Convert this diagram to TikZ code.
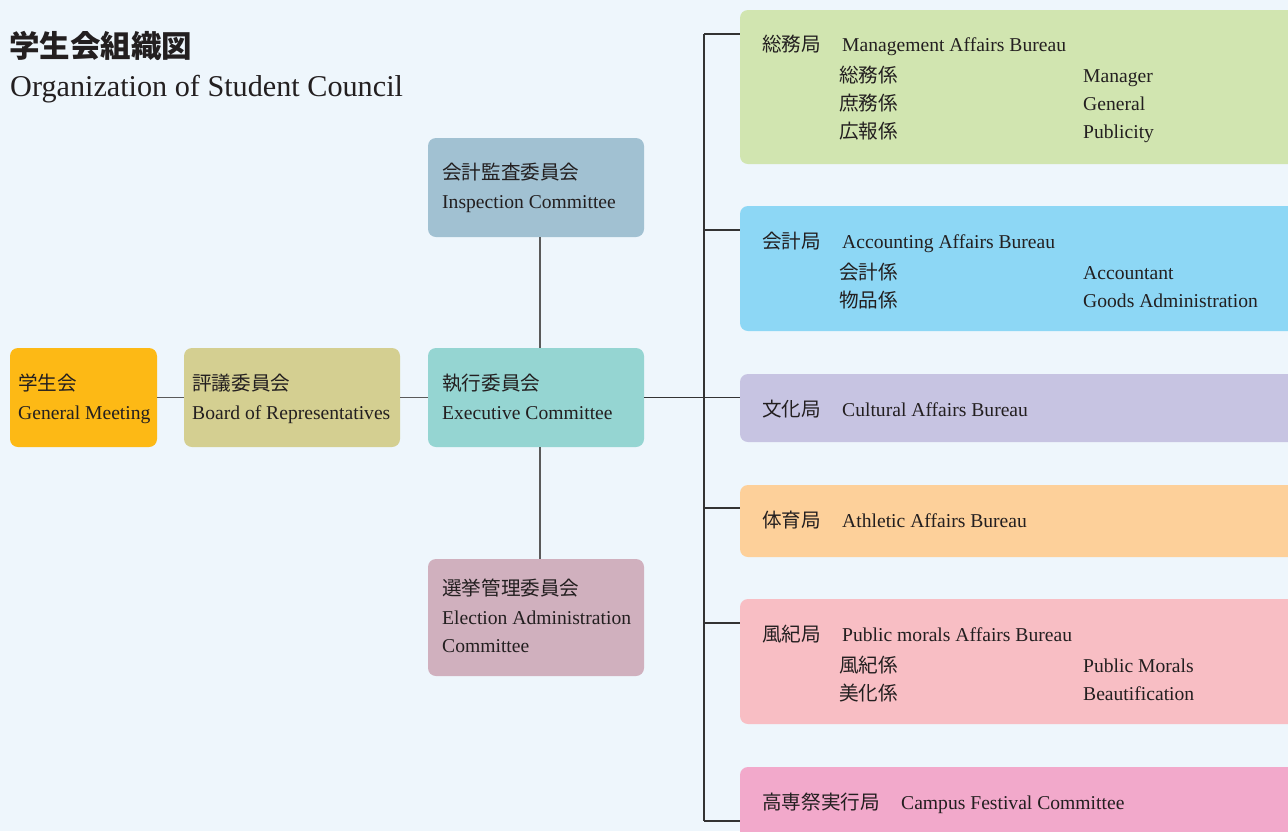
\documentclass[tikz,border=0pt]{standalone}
\usepackage{fontspec}
\setmainfont{Liberation Serif}
\newfontfamily\jp{Noto Sans CJK JP}
\definecolor{bg}{HTML}{EEF6FC}
\definecolor{txt}{HTML}{231F20}
\definecolor{cgm}{HTML}{FDB915}
\definecolor{cbr}{HTML}{D4CF91}
\definecolor{cex}{HTML}{95D5D2}
\definecolor{cin}{HTML}{A1C1D2}
\definecolor{cel}{HTML}{D0B0BE}
\definecolor{cb1}{HTML}{D1E5B0}
\definecolor{cb2}{HTML}{8DD7F5}
\definecolor{cb3}{HTML}{C7C4E2}
\definecolor{cb4}{HTML}{FDD09A}
\definecolor{cb5}{HTML}{F8BEC4}
\definecolor{cb6}{HTML}{F2A9CB}
\definecolor{lnl}{HTML}{5A5A5A}
\definecolor{lnb}{HTML}{333333}
\tikzset{
  box/.style={rectangle, rounded corners=8pt, inner sep=0pt, draw=none},
  en/.style={anchor=base west, inner sep=0pt, text=txt, font=\fontsize{19.6}{22}\selectfont},
  jpt/.style={anchor=base west, inner sep=0pt, text=txt, font=\jp\fontsize{19.6}{22}\selectfont},
  lline/.style={draw=lnl, line width=1.6pt},
  bline/.style={draw=lnb, line width=1.2pt},
}
\begin{document}
\begin{tikzpicture}[x=1pt,y=-1pt]
\useasboundingbox (0,0) rectangle (1288,831);
\clip (0,0) rectangle (1288,831);
\fill[bg] (0,0) rectangle (1288,831);
% title
\node[anchor=base west, inner sep=0pt, text=txt, font=\jp\bfseries\fontsize{30.5}{32}\selectfont] (tj) at (9,57.5) {学生会組織図};
\node[anchor=base west, inner sep=0pt, text=txt, font=\fontsize{30.2}{34}\selectfont] (te) at (10,96) {Organization of Student Council};
% left boxes
\node[box, fill=cgm, minimum width=147pt, minimum height=99pt] (gm) at (83.5,397.5) {};
\node[box, fill=cbr, minimum width=216pt, minimum height=99pt] (br) at (292,397.5) {};
\node[box, fill=cex, minimum width=216pt, minimum height=99pt] (ex) at (536,397.5) {};
\node[box, fill=cin, minimum width=216pt, minimum height=99pt] (in) at (536,187.5) {};
\node[box, fill=cel, minimum width=216pt, minimum height=117pt] (el) at (536,617.5) {};
\node[jpt] (gmj) at (18,390.5) {学生会};
\node[en] (gme) at (18,419) {General Meeting};
\node[jpt] (brj) at (192,390.5) {評議委員会};
\node[en] (bre) at (192,419) {Board of Representatives};
\node[jpt] (exj) at (442,390.5) {執行委員会};
\node[en] (exe) at (442,419) {Executive Committee};
\node[jpt] (inj) at (442,179.5) {会計監査委員会};
\node[en] (ine) at (442,208) {Inspection Committee};
\node[jpt] (elj) at (442,595.5) {選挙管理委員会};
\node[en] (ele) at (442,624) {Election Administration};
\node[en] (ele2) at (442,652) {Committee};
% bureau boxes
\node[box, fill=cb1, minimum width=580pt, minimum height=154pt] (b1) at (1030,87) {};
\node[box, fill=cb2, minimum width=580pt, minimum height=125pt] (b2) at (1030,268.5) {};
\node[box, fill=cb3, minimum width=580pt, minimum height=68pt] (b3) at (1030,408) {};
\node[box, fill=cb4, minimum width=580pt, minimum height=72pt] (b4) at (1030,521) {};
\node[box, fill=cb5, minimum width=580pt, minimum height=125pt] (b5) at (1030,661.5) {};
\node[box, fill=cb6, minimum width=580pt, minimum height=90pt] (b6) at (1030,812) {};
% bureau texts
\node[jpt] (b1j) at (762,51.5) {総務局};
\node[en] (b1e) at (842,51.5) {Management Affairs Bureau};
\node[jpt] (b1aj) at (839,82.5) {総務係};
\node[en] (b1ae) at (1083,82.5) {Manager};
\node[jpt] (b1bj) at (839,110.5) {庶務係};
\node[en] (b1be) at (1083,110.5) {General};
\node[jpt] (b1cj) at (839,138.5) {広報係};
\node[en] (b1ce) at (1083,138.5) {Publicity};
\node[jpt] (b2j) at (762,248.5) {会計局};
\node[en] (b2e) at (842,248.5) {Accounting Affairs Bureau};
\node[jpt] (b2aj) at (839,279.5) {会計係};
\node[en] (b2ae) at (1083,279.5) {Accountant};
\node[jpt] (b2bj) at (839,307.5) {物品係};
\node[en] (b2be) at (1083,307.5) {Goods Administration};
\node[jpt] (b3j) at (762,416.5) {文化局};
\node[en] (b3e) at (842,416.5) {Cultural Affairs Bureau};
\node[jpt] (b4j) at (762,527.5) {体育局};
\node[en] (b4e) at (842,527.5) {Athletic Affairs Bureau};
\node[jpt] (b5j) at (762,641.5) {風紀局};
\node[en] (b5e) at (842,641.5) {Public morals Affairs Bureau};
\node[jpt] (b5aj) at (839,672.5) {風紀係};
\node[en] (b5ae) at (1083,672.5) {Public Morals};
\node[jpt] (b5bj) at (839,700.5) {美化係};
\node[en] (b5be) at (1083,700.5) {Beautification};
\node[jpt] (b6j) at (762,809.5) {高専祭実行局};
\node[en] (b6e) at (901,809.5) {Campus Festival Committee};
% connectors
\coordinate (vx) at (540,0);
\draw[lline] (gm.east) -- (br.west);
\draw[lline] (br.east) -- (ex.west);
\draw[lline] (in.south -| vx) -- (ex.north -| vx);
\draw[lline] (ex.south -| vx) -- (el.north -| vx);
\coordinate (t1) at (704,34);
\coordinate (t2) at (704,230);
\coordinate (t4) at (704,508);
\coordinate (t5) at (704,623);
\coordinate (t6) at (704,821);
\draw[bline] (t1) -- (t6);
\draw[bline] (ex.east) -- (b3.west |- ex.east);
\draw[bline] (t1) -- (b1.west |- t1);
\draw[bline] (t2) -- (b2.west |- t2);
\draw[bline] (t4) -- (b4.west |- t4);
\draw[bline] (t5) -- (b5.west |- t5);
\draw[bline] (t6) -- (b6.west |- t6);
\end{tikzpicture}
\end{document}
